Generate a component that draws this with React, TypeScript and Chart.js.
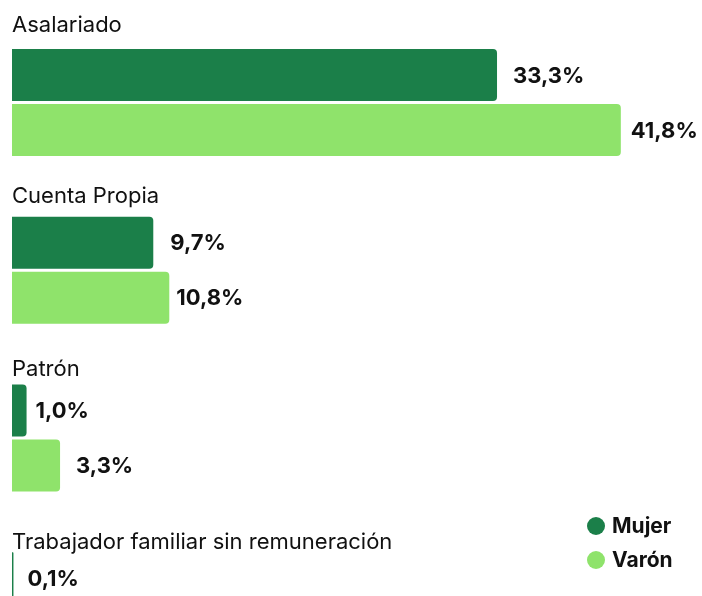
import React, { useEffect, useRef } from "react";
import { Chart, registerables } from "chart.js";

Chart.register(...registerables);

const categories = ["Asalariado", "Cuenta Propia", "Patrón", "Trabajador familiar sin remuneración"];
const mujer = [33.3, 9.7, 1.0, 0.1];
const varon = [41.8, 10.8, 3.3, 0.1];
const seriesNames = ["Mujer", "Varón"];
const colors = ["#1b7f49", "#8fe36b"];

// styling: gap between category label centre and the group's top, and value-label padding
const categoryLabelGap = [24, 20, 15, 10];
const valueLabelPad = [
  [16, 17, 9, 14],
  [10, 7, 16, 14],
];

const FONT = "Inter, 'Noto Sans', sans-serif";

const fmt = (v: number) => v.toFixed(1).replace(".", ",") + "%";

const labelsPlugin = {
  id: "customLabels",
  afterDatasetsDraw(chart: any) {
    const ctx = chart.ctx;
    const area = chart.chartArea;
    ctx.save();
    // category labels
    const meta0 = chart.getDatasetMeta(0);
    ctx.font = `400 22px ${FONT}`;
    ctx.fillStyle = "#111";
    ctx.textAlign = "left";
    ctx.textBaseline = "middle";
    meta0.data.forEach((bar: any, i: number) => {
      const top = bar.y - bar.height / 2;
      ctx.fillText(categories[i], area.left, top - categoryLabelGap[i]);
    });
    // value labels
    ctx.font = `700 22px ${FONT}`;
    chart.data.datasets.forEach((ds: any, di: number) => {
      const meta = chart.getDatasetMeta(di);
      meta.data.forEach((bar: any, i: number) => {
        ctx.fillText(fmt(ds.data[i]), bar.x + valueLabelPad[di][i], bar.y + 1);
      });
    });
    // legend
    const lx = area.right - 86;
    const ly = 526;
    seriesNames.forEach((name, i) => {
      const y = ly + i * 34;
      ctx.beginPath();
      ctx.fillStyle = colors[i];
      ctx.arc(lx, y, 9, 0, Math.PI * 2);
      ctx.fill();
      ctx.fillStyle = "#111";
      ctx.font = `700 21px ${FONT}`;
      ctx.fillText(name, lx + 16, y + 1);
    });
    ctx.restore();
  },
};

export default function App() {
  const ref = useRef<HTMLCanvasElement>(null);
  useEffect(() => {
    if (!ref.current) return;
    const chart = new Chart(ref.current, {
      type: "bar",
      data: {
        labels: categories,
        datasets: [
          { label: seriesNames[0], data: mujer, backgroundColor: colors[0], borderRadius: 4, categoryPercentage: 0.656, barPercentage: 0.945 },
          { label: seriesNames[1], data: varon, backgroundColor: colors[1], borderRadius: 4, categoryPercentage: 0.656, barPercentage: 0.945 },
        ],
      },
      options: {
        indexAxis: "y",
        responsive: false,
        animation: false,
        devicePixelRatio: 1,
        layout: { padding: { left: 12, right: 20, top: 18.7, bottom: 10.5 } },
        scales: {
          x: { display: false, min: 0, max: 46, grid: { display: false } },
          y: { display: false, grid: { display: false } },
        },
        plugins: { legend: { display: false }, tooltip: { enabled: false } },
      },
      plugins: [labelsPlugin],
    } as any);
    return () => chart.destroy();
  }, []);
  return (
    <div style={{ position: "fixed", left: 0, top: 0, width: 702, height: 596, overflow: "hidden", background: "#fff" }}>
      <canvas ref={ref} width={702} height={700} style={{ display: "block", width: 702, height: 700 }} />
    </div>
  );
}
